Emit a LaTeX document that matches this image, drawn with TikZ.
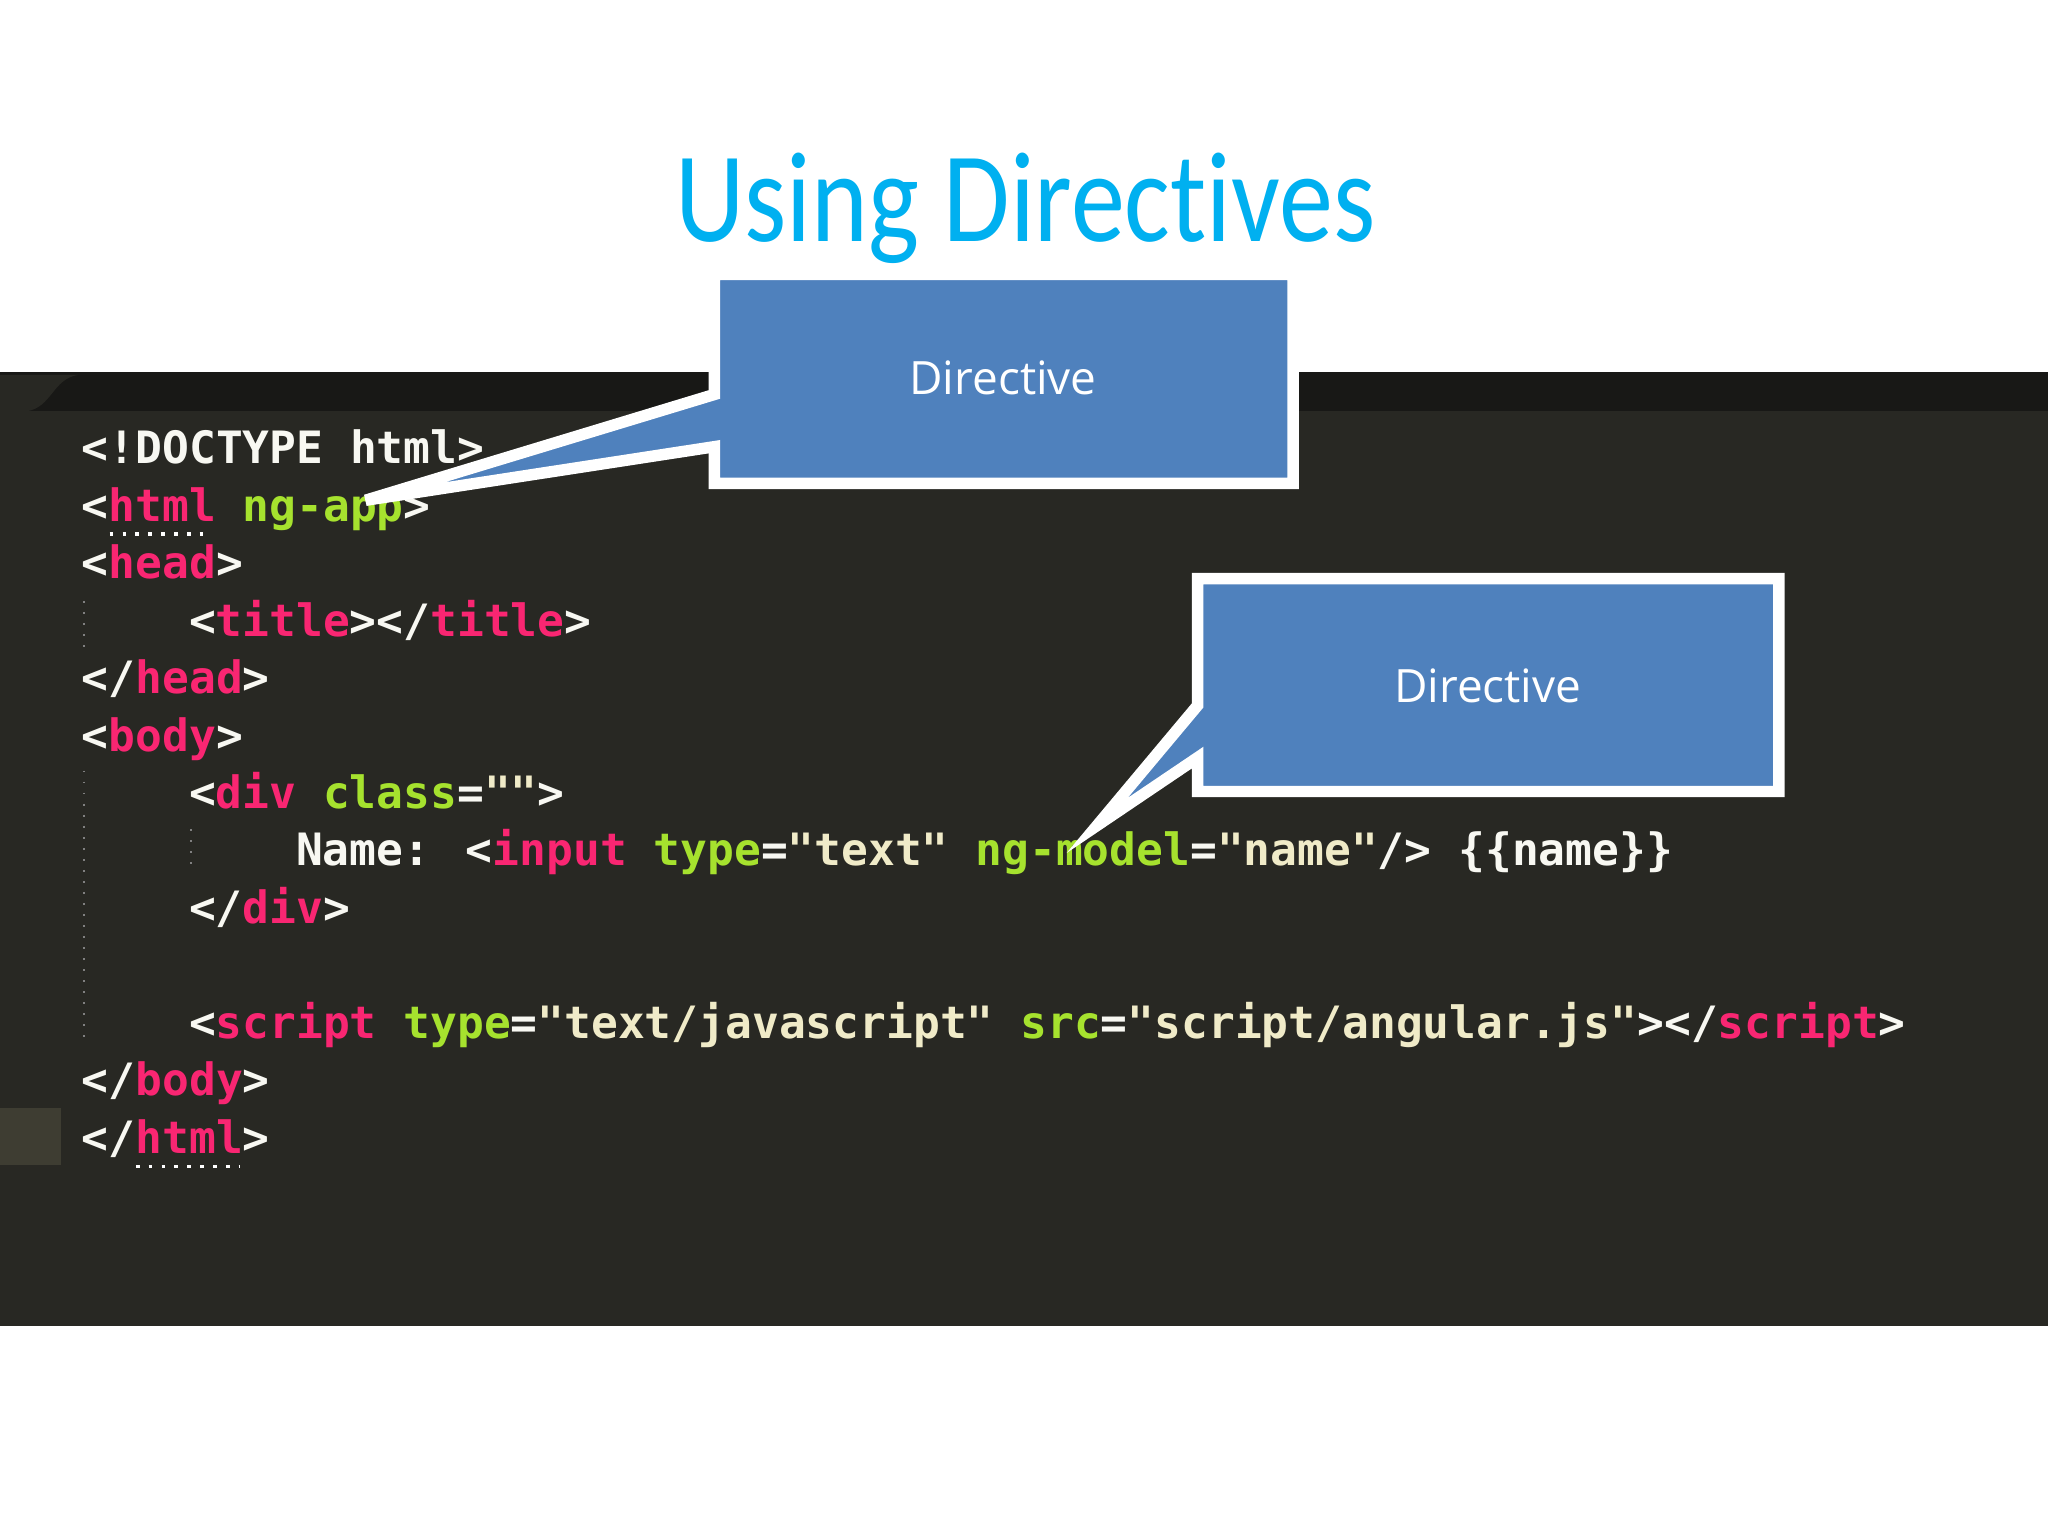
\documentclass[tikz,border=0pt]{standalone}
\usepackage{fontspec}
\usepackage{graphicx}
\setmainfont{Open Sans}
\newfontfamily\codefont{DejaVu Sans Mono}
\newfontfamily\titlefont{Carlito}
\definecolor{titlecol}{RGB}{0,176,240}
\definecolor{bg}{RGB}{40,40,35}
\definecolor{tabbar}{RGB}{24,24,22}
\definecolor{cw}{RGB}{248,248,242}
\definecolor{cp}{RGB}{249,38,114}
\definecolor{cg}{RGB}{166,226,46}
\definecolor{cy}{RGB}{240,235,200}
\definecolor{box}{RGB}{79,129,189}
\definecolor{gut}{RGB}{62,61,50}
\tikzset{code/.style={anchor=base west,inner sep=0,font=\codefont\bfseries\fontsize{9.7}{10}\selectfont,text=cw},
callout/.style={fill=box,draw=white,line width=2.5pt,line join=miter},
ctext/.style={text=white,font=\fontsize{10}{12}\selectfont}}
\newcommand{\Pk}[1]{\textcolor{cp}{#1}}
\newcommand{\Gr}[1]{\textcolor{cg}{#1}}
\newcommand{\Ye}[1]{\textcolor{cy}{#1}}
\begin{document}
\begin{tikzpicture}[x=0.01cm,y=-0.01cm]
\useasboundingbox[fill=white] (0,0) rectangle (1568,1176);
\fill[bg] (0,285) rectangle (1568,1015);
\fill[tabbar] (0,285) rectangle (1568,315);
\fill[bg] (0,315) -- (20,315) .. controls (40,312) and (40,290) .. (60,287) -- (0,287) -- cycle;
\fill[gut] (0,848) rectangle (47,892);
\node[text=titlecol,font=\titlefont\fontsize{28}{30}\selectfont,anchor=base] (title) at (785,185) {\scalebox{0.84}[1]{Using Direct\kern0pt ives}};
\node[code] (l1) at (62,355) {<!DOCTYPE html>};
\node[code] (l2) at (62,399) {<\Pk{html} \Gr{ng-app}>};
\node[code] (l3) at (62,443) {<\Pk{head}>};
\node[code] (l4) at (144,487) {<\Pk{title}></\Pk{title}>};
\node[code] (l5) at (62,531) {</\Pk{head}>};
\node[code] (l6) at (62,575) {<\Pk{body}>};
\node[code] (l7) at (144,619) {<\Pk{div} \Gr{class}=\Ye{""}>};
\node[code] (l8) at (226,663) {Name: <\Pk{input} \Gr{type}=\Ye{"text"} \Gr{ng-model}=\Ye{"name"}/> \{\{name\}\}};
\node[code] (l9) at (144,707) {</\Pk{div}>};
\node[code] (l10) at (144,795) {<\Pk{script} \Gr{type}=\Ye{"text/javascript"} \Gr{src}=\Ye{"script/angular.js"}></\Pk{script}>};
\node[code] (l11) at (62,839) {</\Pk{body}>};
\node[code] (l12) at (62,883) {</\Pk{html}>};
\draw[white,dotted,line width=0.8pt] (84,409) -- (162,409);
\draw[white,dotted,line width=0.8pt] (104,893) -- (184,893);
\draw[gray,dotted] (64,460) -- (64,495);
\draw[gray,dotted] (64,590) -- (64,800);
\draw[gray,dotted] (146,635) -- (146,665);
\draw[callout] (547,210) -- (990,210) -- (990,370) -- (547,370) -- (547,342) -- (280,383) -- (547,302) -- cycle;
\node[ctext] (d1) at (768,289) {Directive};
\draw[callout] (917,443) -- (1362,443) -- (1362,606) -- (917,606) -- (917,580) -- (840,632) -- (917,540) -- cycle;
\node[ctext] (d2) at (1139,525) {Directive};
\end{tikzpicture}
\end{document}
